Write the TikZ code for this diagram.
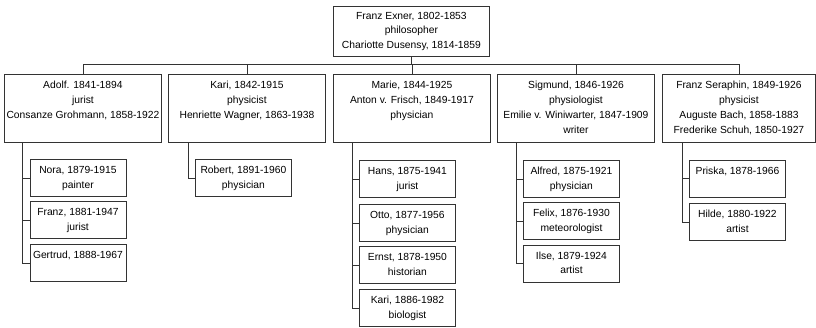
\documentclass[tikz,border=0pt]{standalone}
\usepackage{fontspec}
\setmainfont{Liberation Sans}
\usepackage{tikz}

\begin{document}
\begin{tikzpicture}[x=1pt,y=1pt,yscale=-1,xscale=1,
  every node/.style={font=\fontsize{10.3}{14.8}\selectfont},
  person/.style={draw=black!80,line width=0.9pt,anchor=north west,inner sep=0pt,align=center},
  couple/.style={person,minimum width=157,minimum height=68},
  child/.style={person,minimum width=96,minimum height=37},
  link/.style={draw=black!80,line width=0.9pt}]
\useasboundingbox (0,0) rectangle (816,327);

% Root
\node [person,minimum width=156,minimum height=50] (exner) at (333,6) {Franz Exner, 1802-1853\\ philosopher\\ Chariotte Dusensy, 1814-1859};

% Children of the root
\node [couple] (adolf) at (4,73.5) {\strut Adolf. 1841-1894\\ jurist\\ Consanze Grohmann, 1858-1922\\ \strut};
\node [couple] (kari) at (168,73.5) {\strut Kari, 1842-1915\\ physicist\\ Henriette Wagner, 1863-1938\\ \strut};
\node [couple] (marie) at (333,73.5) {\strut Marie, 1844-1925\\ Anton v. Frisch, 1849-1917\\ physician\\ \strut};
\node [couple] (sigmund) at (497,73.5) {\strut Sigmund, 1846-1926\\ physiologist\\ Emilie v. Winiwarter, 1847-1909\\ \strut writer};
\node [couple,minimum width=153] (seraphin) at (662,73.5) {\strut Franz Seraphin, 1849-1926\\ physicist\\ Auguste Bach, 1858-1883\\ \strut Frederike Schuh, 1850-1927};

% Grandchildren
\node [child] (nora) at (29.5,159) {\strut Nora, 1879-1915\\ \strut painter};
\node [child] (franz) at (29.5,201) {\strut Franz, 1881-1947\\ \strut jurist};
\node [child] (gertrud) at (29.5,244) {\strut Gertrud, 1888-1967\\ \strut};

\node [child] (robert) at (195,159) {\strut Robert, 1891-1960\\ \strut physician};

\node [child] (hans) at (359,160) {\strut Hans, 1875-1941\\ \strut jurist};
\node [child] (otto) at (359,204) {\strut Otto, 1877-1956\\ \strut physician};
\node [child] (ernst) at (359,246) {\strut Ernst, 1878-1950\\ \strut historian};
\node [child] (kariB) at (359,289) {\strut Kari, 1886-1982\\ \strut biologist};

\node [child] (alfred) at (523,160) {\strut Alfred, 1875-1921\\ \strut physician};
\node [child] (felix) at (523,202) {\strut Felix, 1876-1930\\ \strut meteorologist};
\node [child] (ilse) at (523,244.5) {\strut Ilse, 1879-1924\\ \strut artist};

\node [child] (priska) at (689,159.5) {\strut Priska, 1878-1966\\ \strut};
\node [child] (hilde) at (689,203) {\strut Hilde, 1880-1922\\ \strut artist};

% Links root -> children
\foreach \c in {adolf,kari,marie,sigmund,seraphin}
  \draw [link] (exner.south) -- ++(0,8) -| (\c.north);

% Links children -> grandchildren
\foreach \p/\c in {adolf/nora,adolf/franz,adolf/gertrud,kari/robert,
    marie/hans,marie/otto,marie/ernst,marie/kariB,
    sigmund/alfred,sigmund/felix,sigmund/ilse,seraphin/priska,seraphin/hilde}
  \draw [link] ([xshift=-7]\p.south -| \c.west) |- (\c.west);

\end{tikzpicture}
\end{document}
